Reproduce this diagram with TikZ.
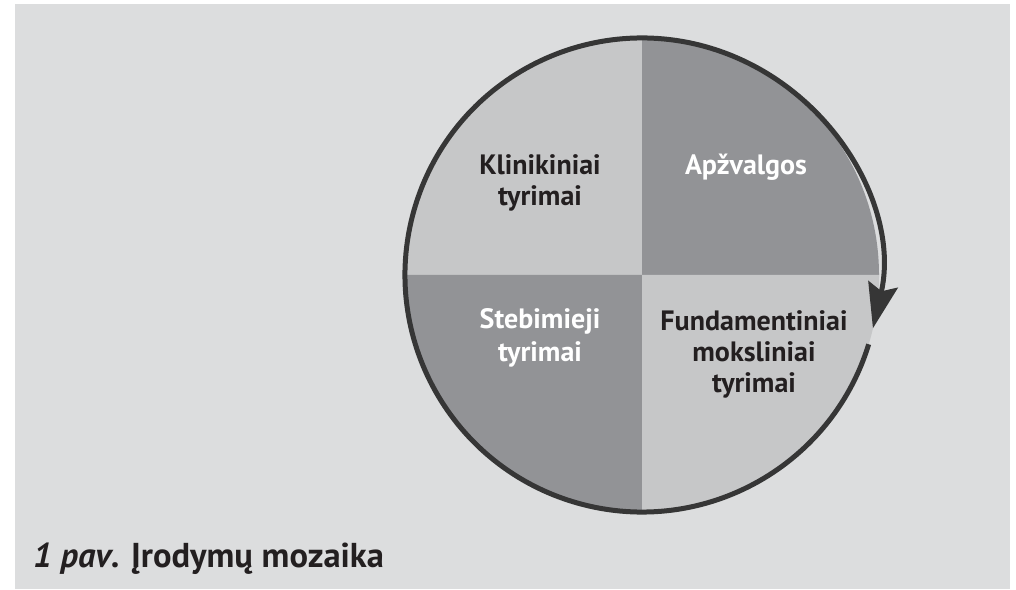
\documentclass[tikz,border=0pt]{standalone}
\usepackage{fontspec}
\setmainfont{PT Sans}
\usetikzlibrary{arrows.meta}
\definecolor{bggray}{HTML}{DCDDDE}
\definecolor{lightq}{HTML}{C6C7C8}
\definecolor{darkq}{HTML}{929396}
\definecolor{ringcol}{HTML}{363636}
\definecolor{txtdark}{HTML}{231F20}
\tikzset{
  lbl/.style={anchor=base, inner sep=0pt, font=\fontsize{28}{32}\selectfont\bfseries},
  lbldark/.style={lbl, text=txtdark},
  lblwhite/.style={lbl, text=white},
  ring/.style={draw=ringcol, line width=5pt}
}
\begin{document}
\begin{tikzpicture}[x=1pt,y=1pt]
\useasboundingbox (0,0) rectangle (1016,589);
\fill[bggray] (15,0) rectangle (1010,585);
\coordinate (c) at (642,314);
% quadrants
\fill[lightq] (c) -- ++(90:237) arc[start angle=90,end angle=180,radius=237] -- cycle;
\fill[darkq] (c) -- ++(0:237) arc[start angle=0,end angle=90,radius=237] -- cycle;
\fill[darkq] (c) -- ++(180:237) arc[start angle=180,end angle=270,radius=237] -- cycle;
\fill[lightq] (c) -- ++(270:237) arc[start angle=270,end angle=360,radius=237] -- cycle;
% ring with arrow
\draw[ring, -{Stealth[length=45pt,width=30pt,inset=7pt]}] (c) ++(-17:237) arc[start angle=-17,end angle=-373,radius=237];
% labels
\node[lbldark] (k1) at (540,414) {Klinikiniai};
\node[lbldark] (k2) at (540,383) {tyrimai};
\node[lblwhite] (a1) at (746,414) {Apžvalgos};
\node[lblwhite] (s1) at (540,260) {Stebimieji};
\node[lblwhite] (s2) at (540,227) {tyrimai};
\node[lbldark] (f1) at (754,258) {Fundamentiniai};
\node[lbldark] (f2) at (754,227) {moksliniai};
\node[lbldark] (f3) at (754,196) {tyrimai};
\node[anchor=base west, inner sep=0pt, text=txtdark, font=\fontsize{34.5}{40}\selectfont\bfseries] (cap) at (33,22) {\textit{1 pav}. Įrodymų mozaika};
\end{tikzpicture}
\end{document}
